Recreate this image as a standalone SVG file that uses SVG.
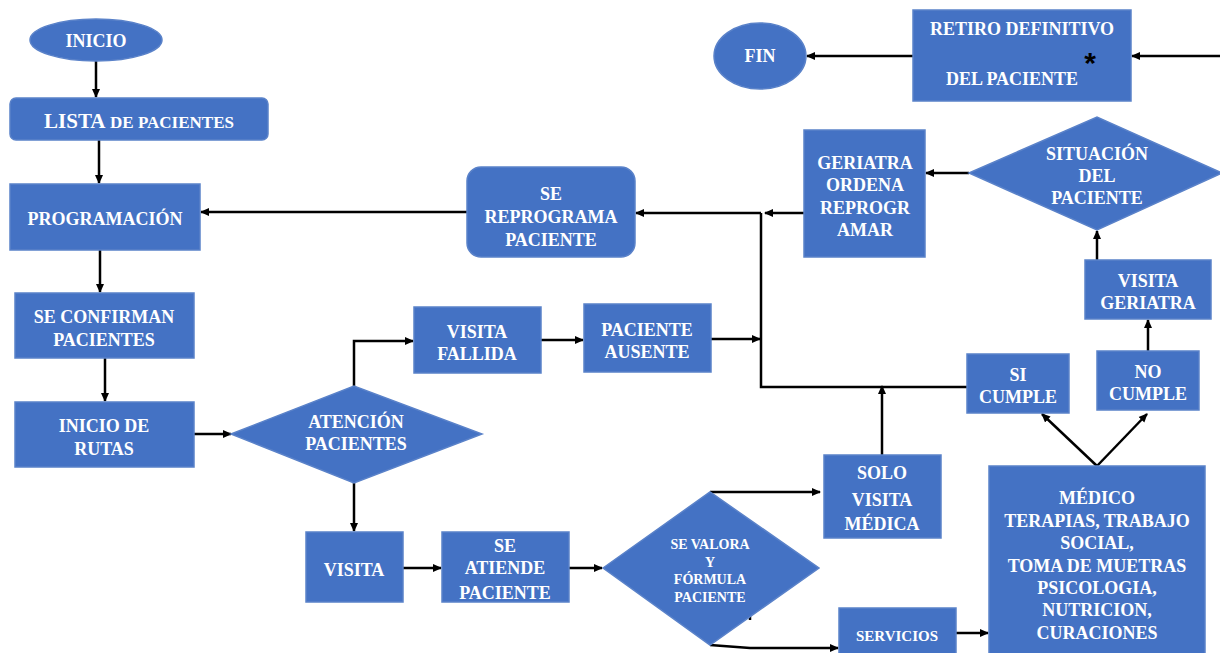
<svg xmlns="http://www.w3.org/2000/svg" width="1220" height="653" viewBox="0 0 1220 653">
<defs>
<marker id="ah" markerWidth="9" markerHeight="9" refX="8" refY="4.5" orient="auto" markerUnits="userSpaceOnUse">
<path d="M0,0.5 L9,4.5 L0,8.5 Z" fill="#000"/>
</marker>
</defs>
<style>
.n{fill:#4472C4;stroke:#5A82C9;stroke-width:1.5}
.t{fill:#fff;font-weight:bold;font-size:18px;text-anchor:middle}
.s{font-size:14px}
.c{stroke:#000;stroke-width:2.5;fill:none}
.a{marker-end:url(#ah)}
</style>
<rect width="1220" height="653" fill="#fff"/>
<g id="connectors">
<path class="c a" d="M96,60 V97"/>
<path class="c a" d="M99,140 V183"/>
<path class="c a" d="M100,250 V292"/>
<path class="c a" d="M105,358 V401"/>
<path class="c a" d="M194,434 H231"/>
<path class="c a" d="M354,386 V341 H413"/>
<path class="c a" d="M541,340 H583"/>
<path class="c a" d="M711,339 H760"/>
<path class="c" d="M761,213 V387 H967"/>
<path class="c a" d="M761,213 H636"/>
<path class="c a" d="M804,213 H765"/>
<path class="c a" d="M467,212 H201"/>
<path class="c a" d="M882,455 V386"/>
<path class="c a" d="M710,492 H820"/>
<path class="c a" d="M710,645 L750,648 H838"/>
<path class="c" d="M750,609 V620"/>
<path class="c a" d="M956,633 H988"/>
<path class="c a" d="M1097,466 L1042,414"/>
<path class="c a" d="M1097,466 L1147,414"/>
<path class="c a" d="M1148,351 V320"/>
<path class="c a" d="M1097,260 V231"/>
<path class="c a" d="M969,173 H926"/>
<path class="c a" d="M1220,56 H1132"/>
<path class="c a" d="M913,56 H807"/>
<path class="c a" d="M403,568 H441"/>
<path class="c a" d="M569,568 H602"/>
<path class="c a" d="M354,483 V531"/>
</g>
<g font-family="'Liberation Serif', 'Times New Roman', 'DejaVu Serif', serif">
<g id="inicio"><ellipse class="n" cx="96" cy="40" rx="66" ry="21"/><text class="t" x="96" y="47">INICIO</text></g>
<g id="lista"><rect class="n" x="10" y="98" width="258" height="42" rx="6"/><text class="t" x="139" y="128"><tspan style="font-size:21px">LISTA</tspan> <tspan style="font-size:17px">DE PACIENTES</tspan></text></g>
<g id="programacion"><rect class="n" x="10" y="184" width="190" height="66"/><text class="t" x="105" y="225">PROGRAMACIÓN</text></g>
<g id="confirman"><rect class="n" x="15" y="293" width="179" height="65"/><text class="t" x="104" y="323">SE CONFIRMAN</text><text class="t" x="104" y="346">PACIENTES</text></g>
<g id="rutas"><rect class="n" x="15" y="402" width="179" height="65"/><text class="t" x="104" y="432">INICIO DE</text><text class="t" x="104" y="455">RUTAS</text></g>
<g id="atencion"><path class="n" d="M231,434 L354,386 L482,434 L354,483 Z"/><text class="t" x="356" y="428">ATENCIÓN</text><text class="t" x="356" y="450">PACIENTES</text></g>
<g id="fallida"><rect class="n" x="414" y="307" width="127" height="66"/><text class="t" x="477" y="338">VISITA</text><text class="t" x="477" y="360">FALLIDA</text></g>
<g id="ausente"><rect class="n" x="584" y="304" width="127" height="68"/><text class="t" x="647" y="336">PACIENTE</text><text class="t" x="647" y="358">AUSENTE</text></g>
<g id="reprograma"><rect class="n" x="467" y="167" width="168" height="90" rx="14"/><text class="t" x="551" y="200">SE</text><text class="t" x="551" y="223">REPROGRAMA</text><text class="t" x="551" y="246">PACIENTE</text></g>
<g id="geriatra-ordena"><rect class="n" x="804" y="130" width="121" height="127"/><text class="t" x="865" y="169">GERIATRA</text><text class="t" x="865" y="191">ORDENA</text><text class="t" x="865" y="214">REPROGR</text><text class="t" x="865" y="236">AMAR</text></g>
<g id="situacion"><path class="n" d="M969,173 L1097,117 L1222,173 L1097,230 Z"/><text class="t" x="1097" y="160">SITUACIÓN</text><text class="t" x="1097" y="182">DEL</text><text class="t" x="1097" y="204">PACIENTE</text></g>
<g id="visita-geriatra"><rect class="n" x="1085" y="260" width="126" height="59"/><text class="t" x="1148" y="287">VISITA</text><text class="t" x="1148" y="309">GERIATRA</text></g>
<g id="no-cumple"><rect class="n" x="1097" y="351" width="102" height="59"/><text class="t" x="1148" y="378">NO</text><text class="t" x="1148" y="400">CUMPLE</text></g>
<g id="si-cumple"><rect class="n" x="967" y="354" width="102" height="59"/><text class="t" x="1018" y="381">SI</text><text class="t" x="1018" y="403">CUMPLE</text></g>
<g id="retiro"><rect class="n" x="913" y="10" width="218" height="91"/><text class="t" x="1022" y="35">RETIRO DEFINITIVO</text><text class="t" x="1012" y="85">DEL PACIENTE</text><text x="1090" y="73" font-family="'Liberation Sans', sans-serif" font-weight="bold" font-size="30" fill="#000" text-anchor="middle">*</text></g>
<g id="fin"><ellipse class="n" cx="760" cy="56" rx="46" ry="33"/><text class="t" x="760" y="62">FIN</text></g>
<g id="solo-visita"><rect class="n" x="824" y="455" width="117" height="83"/><text class="t" x="882" y="479">SOLO</text><text class="t" x="882" y="506">VISITA</text><text class="t" x="882" y="530">MÉDICA</text></g>
<g id="medico"><rect class="n" x="989" y="466" width="216" height="192"/><text class="t" x="1097" y="504">MÉDICO</text><text class="t" x="1097" y="527">TERAPIAS, TRABAJO</text><text class="t" x="1097" y="549">SOCIAL,</text><text class="t" x="1097" y="572">TOMA DE MUETRAS</text><text class="t" x="1097" y="594">PSICOLOGIA,</text><text class="t" x="1097" y="616">NUTRICION,</text><text class="t" x="1097" y="639">CURACIONES</text></g>
<g id="servicios"><rect class="n" x="839" y="608" width="117" height="50"/><text class="t" x="897" y="641" style="font-size:15px">SERVICIOS</text></g>
<g id="visita"><rect class="n" x="306" y="532" width="97" height="70"/><text class="t" x="354" y="576">VISITA</text></g>
<g id="atiende"><rect class="n" x="442" y="532" width="127" height="70"/><text class="t" x="505" y="552">SE</text><text class="t" x="505" y="574">ATIENDE</text><text class="t" x="505" y="599">PACIENTE</text></g>
<g id="valora"><path class="n" d="M603,568 L710,492 L819,568 L710,645 Z"/><text class="t s" x="710" y="549">SE VALORA</text><text class="t s" x="710" y="567">Y</text><text class="t s" x="710" y="584">FÓRMULA</text><text class="t s" x="710" y="602">PACIENTE</text></g>
</g>
</svg>
